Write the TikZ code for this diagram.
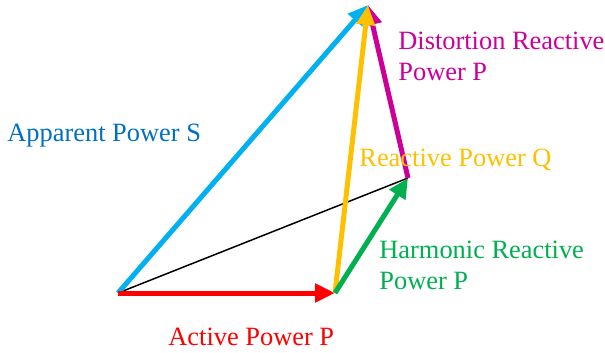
\documentclass[tikz,border=0pt]{standalone}
\usepackage{fontspec}
\setmainfont{Liberation Serif}
\definecolor{pwblue}{RGB}{0,176,240}
\definecolor{pwdblue}{RGB}{0,112,192}
\definecolor{pwred}{RGB}{255,0,0}
\definecolor{pwgreen}{RGB}{0,176,80}
\definecolor{pwyellow}{RGB}{255,192,0}
\definecolor{pwpink}{RGB}{204,0,153}
\usetikzlibrary{arrows.meta,positioning}
\begin{document}
\begin{tikzpicture}[x=0.5pt, y=-0.5pt,
  every node/.style={font=\fontsize{13.2}{15.5}\selectfont, inner sep=0pt, align=left},
  vec/.style={line width=2.5pt, -{Triangle[length=10pt,width=9pt]}},
  lbl/.style={anchor=base west}]
\useasboundingbox (0,0) rectangle (605,353);
\coordinate (O) at (118,293);
\coordinate (A) at (335,293);
\coordinate (B) at (408,178);
\coordinate (T) at (368,5);
\draw[line width=0.75pt] (O) -- (B);
\draw[vec, pwblue] (O) -- (T);
\draw[vec, pwred] (O) -- (A);
\draw[vec, pwpink] (B) -- (T);
\draw[vec, pwyellow] (A) -- (T);
\draw[vec, pwgreen] (A) -- (B);
\node[lbl, pwdblue] (apparent) at (7,141) {Apparent Power S};
\node[lbl, pwpink] (distortion) at (398,81) {Distortion Reactive\\Power P};
\node[lbl, pwyellow] (reactive) at (359,167) {Reactive Power Q};
\node[lbl, pwgreen] (harmonic) at (379,289) {Harmonic Reactive\\Power P};
\node[lbl, pwred] (active) at (168,345) {Active Power P};
\end{tikzpicture}
\end{document}
